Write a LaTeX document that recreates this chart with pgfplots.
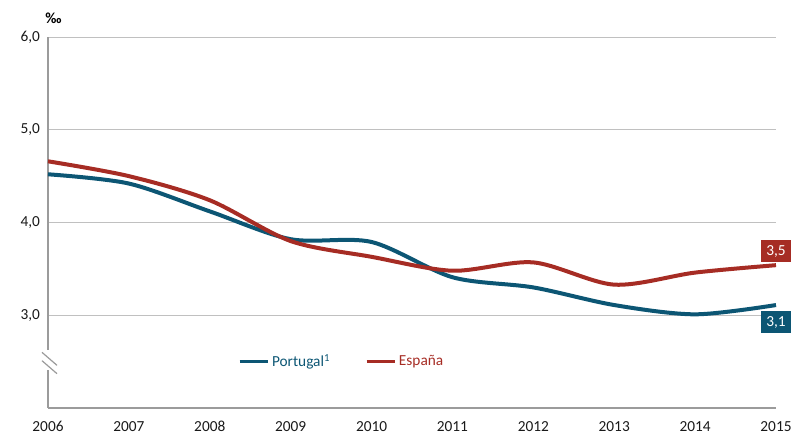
\documentclass[border=0pt]{standalone}
\usepackage{pgfplots}
\pgfplotsset{compat=1.18}
\usepackage{fontspec}
\setmainfont{Carlito}
\definecolor{ptc}{RGB}{12,86,116}
\definecolor{esc}{RGB}{166,44,36}
\definecolor{gridc}{RGB}{192,192,192}
\definecolor{axc}{RGB}{155,155,155}
\begin{document}
\fontsize{11.5}{14}\selectfont
\begin{tikzpicture}
\begin{axis}[
  at={(0,0)}, anchor=south west,
  scale only axis, width=546pt, height=278.25pt,
  xmin=2006, xmax=2015, ymin=2, ymax=6,
  xtick={2006,2007,2008,2009,2010,2011,2012,2013,2014,2015},
  ytick={3,4,5,6},
  axis lines=left, axis line style={draw=none},
  major tick length=0pt,
  ymajorgrids, grid style={gridc, line width=0.75pt},
  /pgf/number format/assume math mode=true,
  x tick label style={/pgf/number format/1000 sep={}, yshift=-6pt},
  y tick label style={/pgf/number format/use comma, /pgf/number format/fixed, /pgf/number format/fixed zerofill, /pgf/number format/precision=1, xshift=-2pt},
  tick label style={font=\fontsize{11.5}{14}\selectfont, text=black!90},
  legend style={at={(0.255,0.125)}, anchor=west, draw=none, fill=none,
    legend columns=2, font=\fontsize{11.5}{14}\selectfont,
    /tikz/every even column/.append style={column sep=24pt}},
  legend image code/.code={\draw[#1, line width=2.6pt] (0pt,0pt) -- (21pt,0pt);},
  clip=false,
]
\draw[axc, line width=1.5pt] (axis cs:2006,2) -- (axis cs:2015,2);
\draw[axc, line width=1.5pt] (axis cs:2006,2) -- (axis cs:2006,2.41);
\draw[axc, line width=1.5pt] (axis cs:2006,2.63) -- (axis cs:2006,6);
\draw[axc, line width=0.9pt] ([xshift=-4.5pt]axis cs:2006,2.60) -- ([xshift=6.75pt]axis cs:2006,2.46);
\draw[axc, line width=0.9pt] ([xshift=-4.5pt]axis cs:2006,2.51) -- ([xshift=6.75pt]axis cs:2006,2.37);

\addplot[ptc, line width=3pt, smooth] coordinates {
 (2006,4.52) (2007,4.42) (2008,4.12) (2009,3.82) (2010,3.79)
 (2011,3.41) (2012,3.30) (2013,3.11) (2014,3.01) (2015,3.11)};
\addlegendentry{\textcolor{ptc}{Portugal\textsuperscript{1}}}
\addplot[esc, line width=3pt, smooth] coordinates {
 (2006,4.66) (2007,4.50) (2008,4.24) (2009,3.80) (2010,3.63)
 (2011,3.48) (2012,3.57) (2013,3.33) (2014,3.46) (2015,3.54)};
\addlegendentry{\textcolor{esc}{España}}

\node[anchor=west, fill=esc, text=white, inner xsep=3.75pt, minimum height=15pt, xshift=-11.25pt, yshift=10.5pt] at (axis cs:2015,3.54) {3,5};
\node[anchor=west, fill=ptc, text=white, inner xsep=3.75pt, minimum height=15pt, xshift=-11.25pt, yshift=-12.75pt] at (axis cs:2015,3.11) {3,1};
\node[anchor=base west, inner sep=0pt, font=\bfseries\fontsize{11.5}{14}\selectfont] at ([xshift=-2.25pt, yshift=10pt]rel axis cs:0,1) {‰};
\end{axis}
\pgfresetboundingbox
\path[use as bounding box] (-36pt,-21pt) rectangle (557.25pt,306pt);
\end{tikzpicture}
\end{document}
